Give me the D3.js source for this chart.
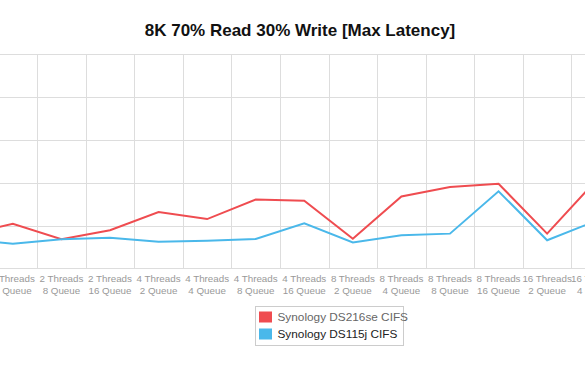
<!DOCTYPE html>
<html>
<head>
<meta charset="utf-8">
<script src="https://cdn.jsdelivr.net/npm/d3@7"></script>
<style>
  body { margin: 0; background: #fff; overflow: hidden; }
  svg { display: block; font-family: "Liberation Sans", Arial, Helvetica, sans-serif; }
</style>
</head>
<body>
<div class="chart"></div>
<script>
"use strict";

// categories visible in the crop (first and last partly off-screen)
var categories = [
  "2 Threads 2 Queue", "2 Threads 4 Queue", "2 Threads 8 Queue", "2 Threads 16 Queue",
  "4 Threads 2 Queue", "4 Threads 4 Queue", "4 Threads 8 Queue", "4 Threads 16 Queue",
  "8 Threads 2 Queue", "8 Threads 4 Queue", "8 Threads 8 Queue", "8 Threads 16 Queue",
  "16 Threads 2 Queue", "16 Threads 4 Queue"
];

var ds216se = [15.4, 20.8, 13.6, 17.8, 26.3, 23.0, 32.1, 31.6, 13.8, 33.6, 38.0, 39.5, 16.2, 40.8];
var ds115j  = [13.4, 11.5, 13.6, 14.3, 12.4, 12.9, 13.7, 21.0, 12.1, 15.4, 16.2, 36.0, 13.1, 22.1];

var yTicks = [0, 20, 40, 60, 80, 100];

var seriesNames = ["Synology DS216se CIFS", "Synology DS115j CIFS"];
var seriesColors = ["#ef4c50", "#4ab8ea"];

var width = 585,
    height = 378;

var svg = d3.select(".chart")
          .append("svg")
          .attr("width", width)
          .attr("height", height);

var plotTop = 54.3,
    plotBottom = 268.3;

var x = d3.scaleBand()
    .domain(categories)
    .range([-60, -60 + 48.57 * categories.length])
    .padding(0);

var y = d3.scaleLinear()
    .domain([0, 100])
    .range([plotBottom, plotTop]);

// horizontal grid
svg.append("g")
    .selectAll("line")
    .data(yTicks)
    .enter().append("line")
        .attr("x1", 0)
        .attr("x2", width)
        .attr("y1", function(d){ return Math.round(y(d)) + 0.5; })
        .attr("y2", function(d){ return Math.round(y(d)) + 0.5; })
        .style("stroke", "#dddddd")
        .style("stroke-width", 1);

// vertical grid at category boundaries
svg.append("g")
    .selectAll("line")
    .data(categories)
    .enter().append("line")
        .attr("x1", function(d){ return Math.round(x(d)) + 0.5; })
        .attr("x2", function(d){ return Math.round(x(d)) + 0.5; })
        .attr("y1", y(100))
        .attr("y2", y(0))
        .style("stroke", "#dddddd")
        .style("stroke-width", 1);

// category labels, two lines each
var labels = svg.append("g")
    .selectAll("text")
    .data(categories)
    .enter().append("text")
        .attr("text-anchor", "middle")
        .attr("font-size", "9.8px")
        .attr("fill", "#999999");

labels.append("tspan")
    .attr("x", function(d){ return x(d) + x.bandwidth() / 2; })
    .attr("y", 281.5)
    .text(function(d){ return d.match(/^\d+ Threads/)[0]; });

labels.append("tspan")
    .attr("x", function(d){ return x(d) + x.bandwidth() / 2; })
    .attr("y", 293.5)
    .text(function(d){ return d.replace(/^\d+ Threads /, ""); });

// series lines
var line = d3.line()
    .x(function(d, i){ return x(categories[i]) + x.bandwidth() / 2; })
    .y(function(d){ return y(d); });

[ds216se, ds115j].forEach(function(values, k){
  svg.append("path")
      .datum(values)
      .attr("d", line)
      .attr("fill", "none")
      .style("stroke", seriesColors[k])
      .style("stroke-width", 2)
      .style("stroke-linejoin", "miter");
});

// title
svg.append("text")
    .attr("x", 300)
    .attr("y", 35.5)
    .attr("text-anchor", "middle")
    .attr("font-size", "17px")
    .attr("font-weight", "bold")
    .attr("fill", "#111")
    .text("8K 70% Read 30% Write [Max Latency]");

// legend
var legend = svg.append("g")
    .attr("transform", "translate(255,306)");

legend.append("rect")
    .attr("x", 0.5)
    .attr("y", 0.5)
    .attr("width", 148)
    .attr("height", 39)
    .attr("fill", "#fff")
    .style("stroke", "#cccccc");

var items = legend.selectAll("g.item")
    .data(seriesNames)
    .enter().append("g")
        .attr("class", "item")
        .attr("transform", function(d, i){ return "translate(4," + (5.5 + i * 17) + ")"; });

items.append("rect")
    .attr("width", 13)
    .attr("height", 11)
    .attr("fill", function(d, i){ return seriesColors[i]; });

items.append("text")
    .attr("x", 18.5)
    .attr("y", 9.5)
    .attr("font-size", "11.8px")
    .attr("fill", function(d, i){ return i === 0 ? "#666" : "#222"; })
    .text(function(d){ return d; });
</script>
</body>
</html>
